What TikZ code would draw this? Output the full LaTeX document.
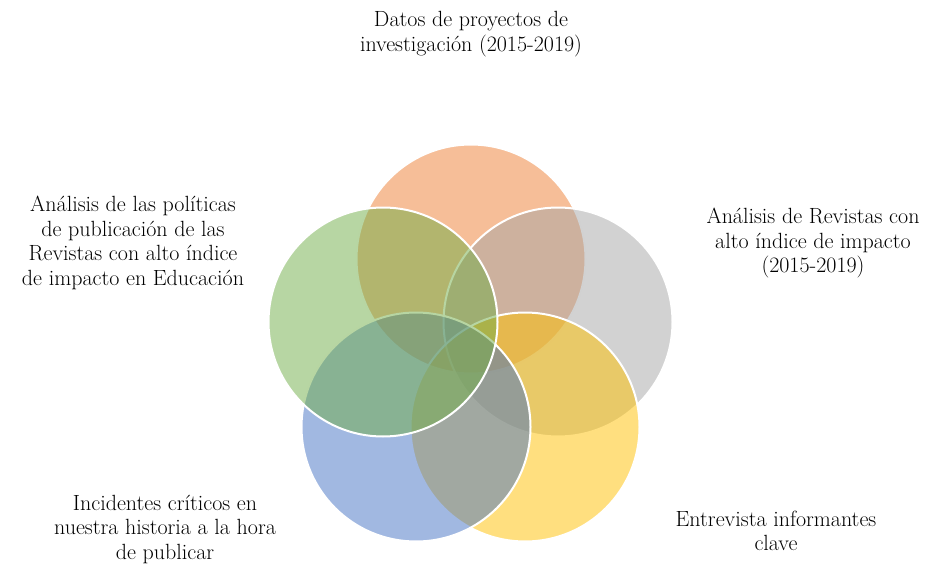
\documentclass[tikz,border=0pt]{standalone}
\usepackage{fontspec}
\definecolor{cOrange}{HTML}{ED7D31}
\definecolor{cGray}{HTML}{A5A5A5}
\definecolor{cYellow}{HTML}{FFC000}
\definecolor{cBlue}{HTML}{4472C4}
\definecolor{cGreen}{HTML}{70AD47}
\tikzset{
  venn/.style={circle, inner sep=0pt, outer sep=0pt, minimum size=229pt, draw=white, line width=2pt, fill opacity=0.5, draw opacity=1},
  lbl/.style={align=center, font=\fontsize{22}{24.5}\selectfont, text=black, inner sep=0pt}
}
\begin{document}
\begin{tikzpicture}[x=1pt,y=-1pt]
\useasboundingbox (0,0) rectangle (926,567);
\node[venn, fill=cOrange] (c1) at (471,259) {};
\node[venn, fill=cGray] (c2) at (558,322) {};
\node[venn, fill=cYellow] (c3) at (525,427) {};
\node[venn, fill=cBlue] (c4) at (416,427) {};
\node[venn, fill=cGreen] (c5) at (383,322) {};
\node[lbl] (t1) at (471,34) {Datos de proyectos de\\investigación (2015-2019)};
\node[lbl] (t2) at (813,243) {Análisis de Revistas con\\alto índice de impacto\\(2015-2019)};
\node[lbl] (t3) at (776,531) {Entrevista informantes\\clave};
\node[lbl] (t4) at (165,529) {Incidentes críticos en\\nuestra historia a la hora\\de publicar};
\node[lbl] (t5) at (133,243) {Análisis de las políticas\\de publicación de las\\Revistas con alto índice\\de impacto en Educación};
\end{tikzpicture}
\end{document}
